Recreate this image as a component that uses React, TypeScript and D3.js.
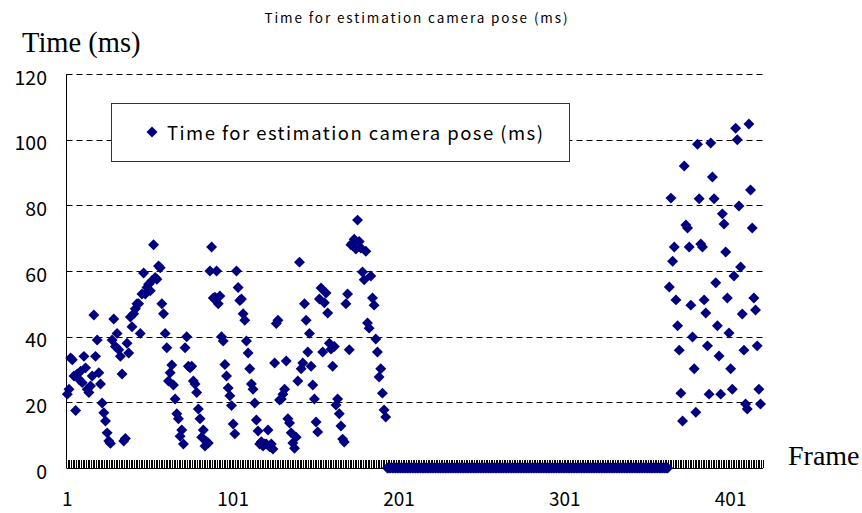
import React from "react";
import * as d3 from "d3";

const chartTitle = "Time for estimation camera pose (ms)";
const seriesName = "Time for estimation camera pose (ms)";
const yAxisTitle = "Time (ms)";
const xAxisTitle = "Frame";
const yTicks = [0, 20, 40, 60, 80, 100, 120];
const xTickLabels = [1, 101, 201, 301, 401];
const frameCount = 420;

// frames 1..193
const valuesStart = [
  22.5, 24, 33.5, 33, 28, 17.5, 28.6, 27, 29.5, 26,
  34, 30.5, 24, 23, 25, 28, 46.6, 34, 39, 29,
  25.6, 19.8, 16.8, 14.3, 10.7, 8.2, 7.5, 39, 45.4, 37,
  41, 36, 34, 28.6, 8.2, 9, 38, 35, 46, 43,
  47, 48.5, 50, 50, 41, 53, 59.4, 53, 55, 56,
  54, 57, 68, 58, 57.5, 61.5, 61, 50, 47, 41,
  36.6, 26.5, 29, 31.4, 25.3, 21, 16.5, 15, 9.7, 11.6,
  7.3, 36.6, 40, 31, 30.5, 31, 26.5, 25.6, 23, 18,
  15, 9.4, 11.6, 6.7, 8, 7.6, 60, 67.3, 51.8, 52,
  60, 50, 52.4, 40, 38.7, 31.5, 28, 24.4, 22, 19,
  13.4, 10.4, 60, 55, 51, 51.5, 47, 45, 38.7, 35,
  30.2, 25.6, 24, 19.8, 14.6, 11.3, 7.3, 8, 6.7, 7.3,
  7.3, 11.6, 6.5, 7.3, 5.8, 32, 44, 45, 20.7, 21,
  22.5, 24, 32.6, 15, 13.7, 10.7, 7.6, 6, 9.4, 26.5,
  62.7, 30.2, 32, 50, 45, 35.3, 41, 31, 25.3, 21,
  14, 11, 51.5, 54.8, 35.3, 50.3, 53.3, 47.2, 38, 36.2,
  31, 37, 19.2, 21, 16.5, 12.8, 8.8, 7.9, 50, 53,
  36, 68, 68.5, 69.7, 66.7, 75.5, 69, 67, 59.7, 57.3,
  66, 44.2, 42.6, 58.5, 51.8, 49.6, 39.3, 35.3, 27.7, 30.2,
  22.8, 17.7, 15.5,
];

// frames 194..363
const valuesMiddle = [
  0, 0, 0, 0, 0, 0, 0, 0, 0, 0, 0, 0, 0, 0, 0, 0, 0, 0, 0, 0,
  0, 0, 0, 0, 0, 0, 0, 0, 0, 0, 0, 0, 0, 0, 0, 0, 0, 0, 0, 0,
  0, 0, 0, 0, 0, 0, 0, 0, 0, 0, 0, 0, 0, 0, 0, 0, 0, 0, 0, 0,
  0, 0, 0, 0, 0, 0, 0, 0, 0, 0, 0, 0, 0, 0, 0, 0, 0, 0, 0, 0,
  0, 0, 0, 0, 0, 0, 0, 0, 0, 0, 0, 0, 0, 0, 0, 0, 0, 0, 0, 0,
  0, 0, 0, 0, 0, 0, 0, 0, 0, 0, 0, 0, 0, 0, 0, 0, 0, 0, 0, 0,
  0, 0, 0, 0, 0, 0, 0, 0, 0, 0, 0, 0, 0, 0, 0, 0, 0, 0, 0, 0,
  0, 0, 0, 0, 0, 0, 0, 0, 0, 0, 0, 0, 0, 0, 0, 0, 0, 0, 0, 0,
  0, 0, 0, 0, 0, 0, 0, 0, 0, 0,
];

// frames 364..419
const valuesEnd = [
  55.1, 82.2, 63, 67.3, 51.2, 43.3, 35.9, 22.8, 14.3, 92,
  74, 73.1, 67.3, 49.6, 39.9, 30.2, 17, 98.6, 82, 68.2,
  67.3, 51.2, 47.2, 37.2, 22.5, 99, 88.6, 82, 56.4, 43.3,
  34.1, 22.5, 77.4, 74.3, 65.8, 51.8, 41.1, 30.2, 24, 58.5,
  103.5, 100, 79.8, 61.2, 46.9, 35.9, 19.5, 18, 104.8, 84.7,
  73.1, 51.8, 48.1, 37.2, 24, 19.5,
];

const values = [...valuesStart, ...valuesMiddle, ...valuesEnd];

const W = 862;
const H = 513;
const left = 66.5;
const right = 763;
const top = 74;
const bottom = 468;
const navy = "#000080";
const gothic = "'Noto Sans CJK JP', 'Noto Sans', sans-serif";
const serif = "'Liberation Serif', 'DejaVu Serif', serif";

export default function App() {
  const frames = d3.range(1, frameCount + 1);
  const x = d3.scaleBand<number>().domain(frames).range([left, right]);
  const bw = x.bandwidth();
  const y = d3.scaleLinear().domain([0, 120]).range([bottom, top]);
  const marker = d3.symbol().type(d3.symbolSquare).size(60)() as string;
  const cx = (f: number) => (x(f) as number) + bw / 2;

  const boundaries = d3.range(0, frameCount + 1).map((i) => left + i * bw);

  return (
    <svg
      width={W}
      height={H}
      style={{ position: "absolute", left: 0, top: 0, background: "#fff" }}
    >
      <rect x={0} y={0} width={W} height={H} fill="#fff" />
      <text
        x={416}
        y={17}
        textAnchor="middle"
        dominantBaseline="central"
        fontFamily={gothic}
        fontSize={13.5}
        textLength={303}
        lengthAdjust="spacing"
      >
        {chartTitle}
      </text>
      <text x={22} y={52} fontFamily={serif} fontSize={28.5}>
        {yAxisTitle}
      </text>
      <text x={788} y={465} fontFamily={serif} fontSize={28}>
        {xAxisTitle}
      </text>

      {/* gridlines */}
      {yTicks
        .filter((t) => t > 0)
        .map((t) => (
          <line
            key={"g" + t}
            x1={left}
            x2={right}
            y1={Math.round(y(t)) + 0.5}
            y2={Math.round(y(t)) + 0.5}
            stroke="#000"
            strokeWidth={1}
            strokeDasharray="6,4"
          />
        ))}

      {/* y labels */}
      {yTicks.map((t) => (
        <text
          key={"yl" + t}
          x={47}
          y={y(t) + 2}
          textAnchor="end"
          dominantBaseline="central"
          fontFamily={gothic}
          fontSize={19.5}
        >
          {t}
        </text>
      ))}

      {/* x ticks */}
      <g shapeRendering="crispEdges">
        {boundaries.map((bx, i) => (
          <line
            key={"t" + i}
            x1={bx}
            x2={bx}
            y1={bottom - 8}
            y2={bottom}
            stroke="#000"
            strokeWidth={1}
          />
        ))}
      </g>

      {/* axes */}
      <line x1={left} x2={left} y1={top} y2={bottom} stroke="#000" strokeWidth={1} />
      <line x1={left} x2={right} y1={bottom + 0.5} y2={bottom + 0.5} stroke="#000" strokeWidth={1} />

      {/* x labels */}
      {xTickLabels.map((f) => (
        <text
          key={"xl" + f}
          x={cx(f)}
          y={506}
          textAnchor="middle"
          fontFamily={gothic}
          fontSize={19}
        >
          {f}
        </text>
      ))}

      {/* legend */}
      <rect x={111.5} y={103.5} width={458} height={58} fill="#fff" stroke="#333" strokeWidth={1} />
      <path d={marker} transform={`translate(152,132) rotate(45)`} fill={navy} />
      <text
        x={167}
        y={132}
        dominantBaseline="central"
        fontFamily={gothic}
        fontSize={18.5}
        textLength={376}
        lengthAdjust="spacing"
      >
        {seriesName}
      </text>

      {/* points */}
      {values.map((v, i) => (
        <path
          key={"p" + i}
          d={marker}
          transform={`translate(${cx(i + 1)},${y(v)}) rotate(45)`}
          fill={navy}
        />
      ))}
    </svg>
  );
}
